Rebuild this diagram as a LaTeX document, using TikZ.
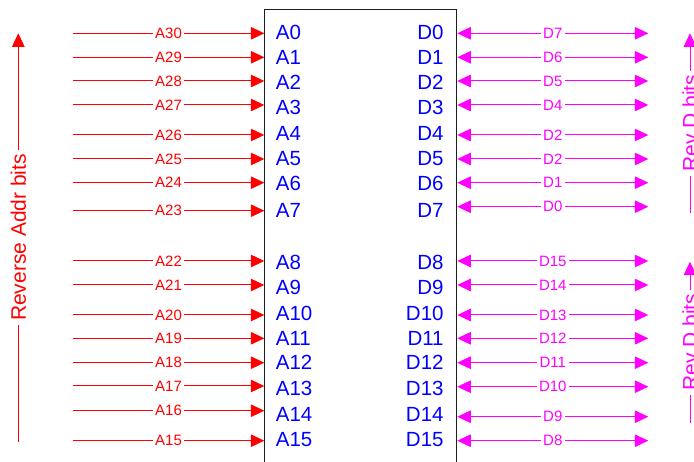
\documentclass[tikz,border=0pt]{standalone}
\usepackage{fontspec}
\setmainfont{Liberation Sans}
\usetikzlibrary{arrows.meta}
\definecolor{ared}{RGB}{255,0,0}
\definecolor{dmag}{RGB}{255,0,255}
\definecolor{pblue}{RGB}{0,0,255}
\definecolor{boxc}{RGB}{30,30,30}
\begin{document}
\begin{tikzpicture}[x=1pt,y=-1pt,
  tipx/.tip={Triangle[length=13.5pt,width=12.5pt]},
  redarrow/.style={draw=ared, line width=1pt, -tipx},
  magarrow/.style={draw=dmag, line width=1pt, tipx-tipx},
  redlbl/.style={fill=white, text=ared, inner xsep=2.5pt, inner ysep=1pt, font=\fontsize{15}{18}\selectfont},
  maglbl/.style={fill=white, text=dmag, inner xsep=2.5pt, inner ysep=1pt, font=\fontsize{15}{18}\selectfont},
  pinlbl/.style={text=pblue, inner sep=0pt, font=\fontsize{20.5}{24}\selectfont},
  sidelbl/.style={fill=white, rotate=90, inner xsep=4pt, inner ysep=1pt, font=\fontsize{21}{25}\selectfont},
]
\useasboundingbox (0,0) rectangle (694,462);
\clip (0,0) rectangle (694,462);
% chip box
\coordinate (boxtl) at (264.3,9.3);
\coordinate (boxbr) at (456.8,480);
\draw[boxc, line width=1pt] (boxtl) rectangle (boxbr);
% rows
\foreach \i/\ya/\yb/\yl/\la/\lb in {
  0/33.3/33.3/32/A30/D7,
  1/57.3/57.3/57/A29/D6,
  2/81/81/82/A28/D5,
  3/105/105/107/A27/D4,
  4/135/135/133/A26/D2,
  5/159/159/159/A25/D2,
  6/182.7/182.7/183/A24/D1,
  7/210.7/206.7/210/A23/D0,
  8/261/261/262/A22/D15,
  9/285/285/287/A21/D14,
  10/315/315/313/A20/D13,
  11/338.3/338.3/338/A19/D12,
  12/362.7/362.7/362/A18/D11,
  13/386/386.7/388/A17/D10,
  14/410.7/416.7/414/A16/D9,
  15/440.7/440.7/440/A15/D8}{
  \coordinate (as\i) at (72.7,\ya);
  \coordinate (ae\i) at (264.3,\ya);
  \draw[redarrow] (as\i) -- node[redlbl] (al\i) {\la} (ae\i);
  \node[pinlbl, anchor=west] (pa\i) at (275.7,\yl) {A\i};
  \node[pinlbl, anchor=east] (pd\i) at (443.8,\yl) {D\i};
  \coordinate (ds\i) at (457.3,\yb);
  \coordinate (de\i) at (648.3,\yb);
  \draw[magarrow] (ds\i) -- node[maglbl] (dl\i) {\lb} (de\i);
}
% side arrows
\coordinate (rb) at (18.3,441.7);
\coordinate (rt) at (18.3,33.3);
\draw[draw=ared, line width=1pt, -tipx] (rb) -- node[sidelbl, text=ared] (rl) {Reverse Addr bits} (rt);
\coordinate (m1b) at (690,213);
\coordinate (m1t) at (690,33.3);
\draw[draw=dmag, line width=1pt, -tipx] (m1b) -- node[sidelbl, text=dmag] (ml1) {Rev D bits} (m1t);
\coordinate (m2b) at (690,423);
\coordinate (m2t) at (690,261.7);
\draw[draw=dmag, line width=1pt, -tipx] (m2b) -- node[sidelbl, text=dmag] (ml2) {Rev D bits} (m2t);
\end{tikzpicture}
\end{document}
